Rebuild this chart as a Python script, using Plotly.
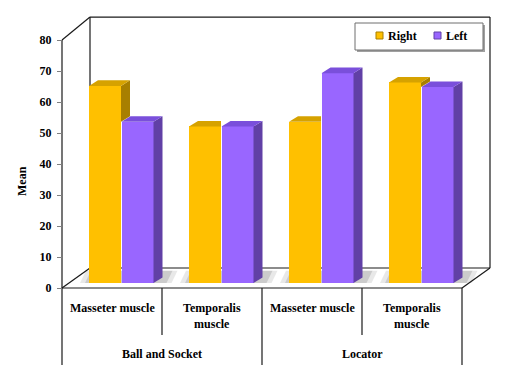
import plotly.graph_objects as go

# ---------------- data ----------------
muscles = ["Masseter muscle", "Temporalis<br>muscle", "Masseter muscle", "Temporalis<br>muscle"]
groups = ["Ball and Socket", "Locator"]
series_names = ["Right", "Left"]
right_vals = [63.6, 50.5, 52.0, 64.7]
left_vals = [52.0, 50.5, 67.7, 63.2]
y_ticks = [0, 10, 20, 30, 40, 50, 60, 70, 80]

# ---------------- style / geometry ----------------
OFF = 8                      # page body margin
W, H = 506 - OFF, 379 - OFF
FONT = "'Liberation Serif', 'Times New Roman', Times, serif"
GOLD = dict(front="#FFC000", top="#D6A200", side="#A87F00")
PURP = dict(front="#9966FF", top="#7A4FDB", side="#6140A6")
BASE = 1.6
BAR_W = 0.32
OFF_R, OFF_L = 0.43, 0.755
DX, DY = 0.09, 1.8
WALL_DX, WALL_DY = 0.28, 6.45
Y_TOP = 80
XR = [-0.03, 4.31]
YR = [-1, 88]
X_PX0, X_PX1 = 59, 493
Y_PX0 = 288 + 3.1
Y_PX1 = 288 - 88 * 3.1


def px(x):
    return (x - OFF) / W


def py(y):
    return 1 - (y - OFF) / H


n = len(muscles)
idx = list(range(n))
xr = [i + OFF_R for i in idx]
xl = [i + OFF_L for i in idx]

fig = go.Figure()

# ---- front faces as bars ----
fig.add_trace(go.Bar(x=xr, y=right_vals, base=[BASE] * n, width=BAR_W, name=series_names[0],
                     marker=dict(color=GOLD["front"], line=dict(width=0)), showlegend=False))
fig.add_trace(go.Bar(x=xl, y=left_vals, base=[BASE] * n, width=BAR_W, name=series_names[1],
                     marker=dict(color=PURP["front"], line=dict(width=0)), showlegend=False))


def poly(xs, ys, color):
    fig.add_trace(go.Scatter(x=xs + [xs[0]], y=ys + [ys[0]], fill="toself", fillcolor=color,
                             mode="lines", line=dict(width=0, color=color),
                             hoverinfo="skip", showlegend=False))


# ---- 3-D faces computed from the data (scatter layer sits above bars) ----
for i in idx:
    lt = BASE + left_vals[i]
    rt = BASE + right_vals[i]
    a = xl[i] - BAR_W / 2
    b = xl[i] + BAR_W / 2
    ra = xr[i] - BAR_W / 2
    rb = xr[i] + BAR_W / 2
    poly([b, b, b + DX, b + DX], [BASE, lt, lt + DY, BASE + DY], PURP["side"])
    poly([a, a + DX, b + DX, b], [lt, lt + DY, lt + DY, lt], PURP["top"])
    if rt > lt:
        low = max(lt, BASE)
        poly([rb, rb, rb + DX, rb + DX], [low, rt, rt + DY, low + DY], GOLD["side"])
        poly([ra, ra + DX, rb + DX, rb], [rt, rt + DY, rt + DY, rt], GOLD["top"])
    else:
        poly([ra, ra + DX, rb, rb], [rt, rt + DY, rt + DY, rt], GOLD["top"])

shapes = []
LC = "#1a1a1a"


def line(x0, y0, x1, y1, xref="x", yref="y", color=LC, w=1.2):
    shapes.append(dict(type="line", x0=x0, y0=y0, x1=x1, y1=y1, xref=xref, yref=yref,
                       line=dict(color=color, width=w), layer="below"))


# floor shadows (below the bars)
for i in idx:
    x0 = xr[i] - BAR_W / 2
    x1 = xl[i] + BAR_W / 2 + DX
    for grow, col in [(0.09, "rgba(190,190,190,0.35)"), (0.04, "rgba(150,150,150,0.35)")]:
        pts = [(x0 - grow, BASE), (x1 + grow, BASE), (x1 + grow + 0.06, BASE + DY + 2.2),
               (x0 - grow + 0.06, BASE + DY + 2.2)]
        path = "M " + " L ".join(f"{p[0]},{p[1]}" for p in pts) + " Z"
        shapes.append(dict(type="path", path=path, xref="x", yref="y", fillcolor=col,
                           line=dict(width=0), layer="below"))

ytop_back = Y_TOP + WALL_DY + 0.95
xright = n + WALL_DX
line(0, 0, 0, Y_TOP)
line(0, Y_TOP, WALL_DX, ytop_back)
line(WALL_DX, WALL_DY, WALL_DX, ytop_back)
line(WALL_DX, ytop_back, xright, ytop_back)
line(xright, WALL_DY, xright, ytop_back)
line(WALL_DX, WALL_DY, xright, WALL_DY)
line(0, 0, WALL_DX, WALL_DY)
line(0, 0, n, 0)
line(n, 0, xright, WALL_DY)

for i in range(n + 1):
    bottom = 365 if i % 2 == 0 else 335
    line(i, py(288), i, py(bottom), xref="x", yref="paper")

TF = dict(family=FONT, size=12, color="black", weight="bold")
annotations = []
for i, m in enumerate(muscles):
    annotations.append(dict(x=i + 0.5, y=py(299), xref="x", yref="paper", text=m, showarrow=False,
                            xanchor="center", yanchor="top", font=TF))
for g, gname in enumerate(groups):
    annotations.append(dict(x=2 * g + 1, y=py(354), xref="x", yref="paper", text=gname, showarrow=False,
                            xanchor="center", yanchor="middle", font=TF))
annotations.append(dict(x=px(13), y=py(181), xref="paper", yref="paper", text="Mean", textangle=-90,
                        showarrow=False, font=TF))

# legend box
shapes.append(dict(type="rect", x0=px(357), x1=px(485), y0=py(25), y1=py(52), xref="paper", yref="paper",
                   line=dict(width=0), fillcolor="#a0a0a0", layer="above"))
shapes.append(dict(type="rect", x0=px(355), x1=px(483), y0=py(23), y1=py(50), xref="paper", yref="paper",
                   line=dict(width=1, color="#6e6e6e"), fillcolor="white", layer="above"))
leg = [(series_names[0], GOLD, 376, 386), (series_names[1], PURP, 434, 444)]
for name, col, mx, tx in leg:
    shapes.append(dict(type="rect", x0=px(mx), x1=px(mx + 7), y0=py(32), y1=py(39), xref="paper", yref="paper",
                       line=dict(width=1, color=col["side"]), fillcolor=col["front"], layer="above"))
    annotations.append(dict(x=px(tx), y=py(36), xref="paper", yref="paper", text=name, showarrow=False,
                            xanchor="left", yanchor="middle", font=TF))

fig.update_layout(
    width=W, height=H,
    margin=dict(l=0, r=0, t=0, b=0),
    paper_bgcolor="white", plot_bgcolor="white",
    barmode="overlay", bargap=0,
    showlegend=False,
    font=dict(family=FONT),
    xaxis=dict(domain=[px(X_PX0), px(X_PX1)], range=XR, showgrid=False, zeroline=False,
               showticklabels=False, ticks="", showline=False, automargin=False, fixedrange=True),
    yaxis=dict(domain=[py(Y_PX0), py(Y_PX1)], range=YR, showgrid=False, zeroline=False,
               anchor="free", position=px(62), tickvals=y_ticks, ticks="outside", ticklen=5,
               tickcolor="#808080", ticklabelstandoff=3, showline=False, automargin=False,
               tickfont=TF, fixedrange=True),
    shapes=shapes, annotations=annotations,
)

fig.write_html("out.html")
